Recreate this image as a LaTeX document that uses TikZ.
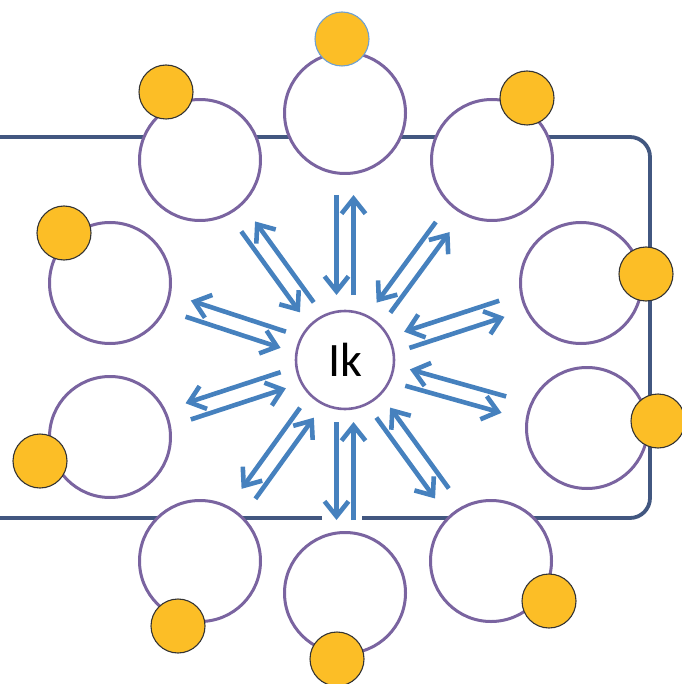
\documentclass[tikz,border=0pt]{standalone}
\usepackage{fontspec}
\setmainfont{Carlito}
\usetikzlibrary{calc}
\usetikzlibrary{arrows.meta}

\definecolor{framecol}{RGB}{66,87,128}
\definecolor{seatcol}{RGB}{122,100,160}
\definecolor{guestcol}{RGB}{252,190,38}
\definecolor{linkcol}{RGB}{70,129,190}
\definecolor{rimcol}{RGB}{110,160,210}

\begin{document}
\begin{tikzpicture}[x = 1pt, y = -1pt,
  frame/.style = {draw = framecol, line width = 3.8pt},
  seat/.style = {circle, draw = seatcol, line width = 3pt, fill = white, minimum size = 121pt, inner sep = 0pt},
  hub/.style = {circle, draw = seatcol, line width = 2.6pt, fill = white, minimum size = 98pt, inner sep = 0pt, font = \fontsize{48}{54}\selectfont},
  guest/.style = {circle, draw = black!80, line width = 1.1pt, fill = guestcol, minimum size = 54pt, inner sep = 0pt},
  link/.style = {draw = linkcol, line width = 4.6pt, -{Straight Barb[length = 15pt, width = 24pt]}}]
\useasboundingbox (0,0) rectangle (681,684);

% table edge
\draw[frame, rounded corners = 20pt] (-5,137) -- (650,137) -- (650,518) -- (362,518);
\draw[frame] (322,518) -- (-5,518);

% seats round the hub
\draw (345,360) node[hub, name = ik]{Ik};
\draw (345,113) node[seat, name = c1]{};
\draw (492,160) node[seat, name = c2]{};
\draw (581,283) node[seat, name = c3]{};
\draw (587,428) node[seat, name = c4]{};
\draw (491,561) node[seat, name = c5]{};
\draw (345,593) node[seat, name = c6]{};
\draw (200,561) node[seat, name = c7]{};
\draw (110,437) node[seat, name = c8]{};
\draw (110,283) node[seat, name = c9]{};
\draw (200,160) node[seat, name = c10]{};

% guests
\draw (342,39) node[guest, draw = rimcol, name = g1]{};
\draw (527,98) node[guest, name = g2]{};
\draw (646,274) node[guest, name = g3]{};
\draw (658,421) node[guest, name = g4]{};
\draw (549,601) node[guest, name = g5]{};
\draw (337,659) node[guest, name = g6]{};
\draw (178,626) node[guest, name = g7]{};
\draw (40,461) node[guest, name = g8]{};
\draw (64,233) node[guest, name = g9]{};
\draw (166,92) node[guest, name = g10]{};

% arrow pairs, in and out
\draw[link] ($(ik)!165pt!(c1)!8.5pt!90:(c1)$) -- ($(ik)!65pt!(c1)!8.5pt!90:(c1)$);
\draw[link] ($(ik)!65pt!(c1)!8.5pt!-90:(c1)$) -- ($(ik)!165pt!(c1)!8.5pt!-90:(c1)$);
\draw[link] ($(ik)!165pt!(c2)!8.5pt!90:(c2)$) -- ($(ik)!65pt!(c2)!8.5pt!90:(c2)$);
\draw[link] ($(ik)!65pt!(c2)!8.5pt!-90:(c2)$) -- ($(ik)!165pt!(c2)!8.5pt!-90:(c2)$);
\draw[link] ($(ik)!165pt!(c3)!8.5pt!90:(c3)$) -- ($(ik)!65pt!(c3)!8.5pt!90:(c3)$);
\draw[link] ($(ik)!65pt!(c3)!8.5pt!-90:(c3)$) -- ($(ik)!165pt!(c3)!8.5pt!-90:(c3)$);
\draw[link] ($(ik)!165pt!(c4)!8.5pt!90:(c4)$) -- ($(ik)!65pt!(c4)!8.5pt!90:(c4)$);
\draw[link] ($(ik)!65pt!(c4)!8.5pt!-90:(c4)$) -- ($(ik)!165pt!(c4)!8.5pt!-90:(c4)$);
\draw[link] ($(ik)!165pt!(c5)!8.5pt!90:(c5)$) -- ($(ik)!65pt!(c5)!8.5pt!90:(c5)$);
\draw[link] ($(ik)!65pt!(c5)!8.5pt!-90:(c5)$) -- ($(ik)!165pt!(c5)!8.5pt!-90:(c5)$);
\draw[link] ($(ik)!160pt!(c6)!8.5pt!90:(c6)$) -- ($(ik)!62pt!(c6)!8.5pt!90:(c6)$);
\draw[link] ($(ik)!62pt!(c6)!8.5pt!-90:(c6)$) -- ($(ik)!160pt!(c6)!8.5pt!-90:(c6)$);
\draw[link] ($(ik)!165pt!(c7)!8.5pt!90:(c7)$) -- ($(ik)!65pt!(c7)!8.5pt!90:(c7)$);
\draw[link] ($(ik)!65pt!(c7)!8.5pt!-90:(c7)$) -- ($(ik)!165pt!(c7)!8.5pt!-90:(c7)$);
\draw[link] ($(ik)!165pt!(c8)!8.5pt!90:(c8)$) -- ($(ik)!65pt!(c8)!8.5pt!90:(c8)$);
\draw[link] ($(ik)!65pt!(c8)!8.5pt!-90:(c8)$) -- ($(ik)!165pt!(c8)!8.5pt!-90:(c8)$);
\draw[link] ($(ik)!165pt!(c9)!8.5pt!90:(c9)$) -- ($(ik)!65pt!(c9)!8.5pt!90:(c9)$);
\draw[link] ($(ik)!65pt!(c9)!8.5pt!-90:(c9)$) -- ($(ik)!165pt!(c9)!8.5pt!-90:(c9)$);
\draw[link] ($(ik)!165pt!(c10)!8.5pt!90:(c10)$) -- ($(ik)!65pt!(c10)!8.5pt!90:(c10)$);
\draw[link] ($(ik)!65pt!(c10)!8.5pt!-90:(c10)$) -- ($(ik)!165pt!(c10)!8.5pt!-90:(c10)$);
\end{tikzpicture}
\end{document}
